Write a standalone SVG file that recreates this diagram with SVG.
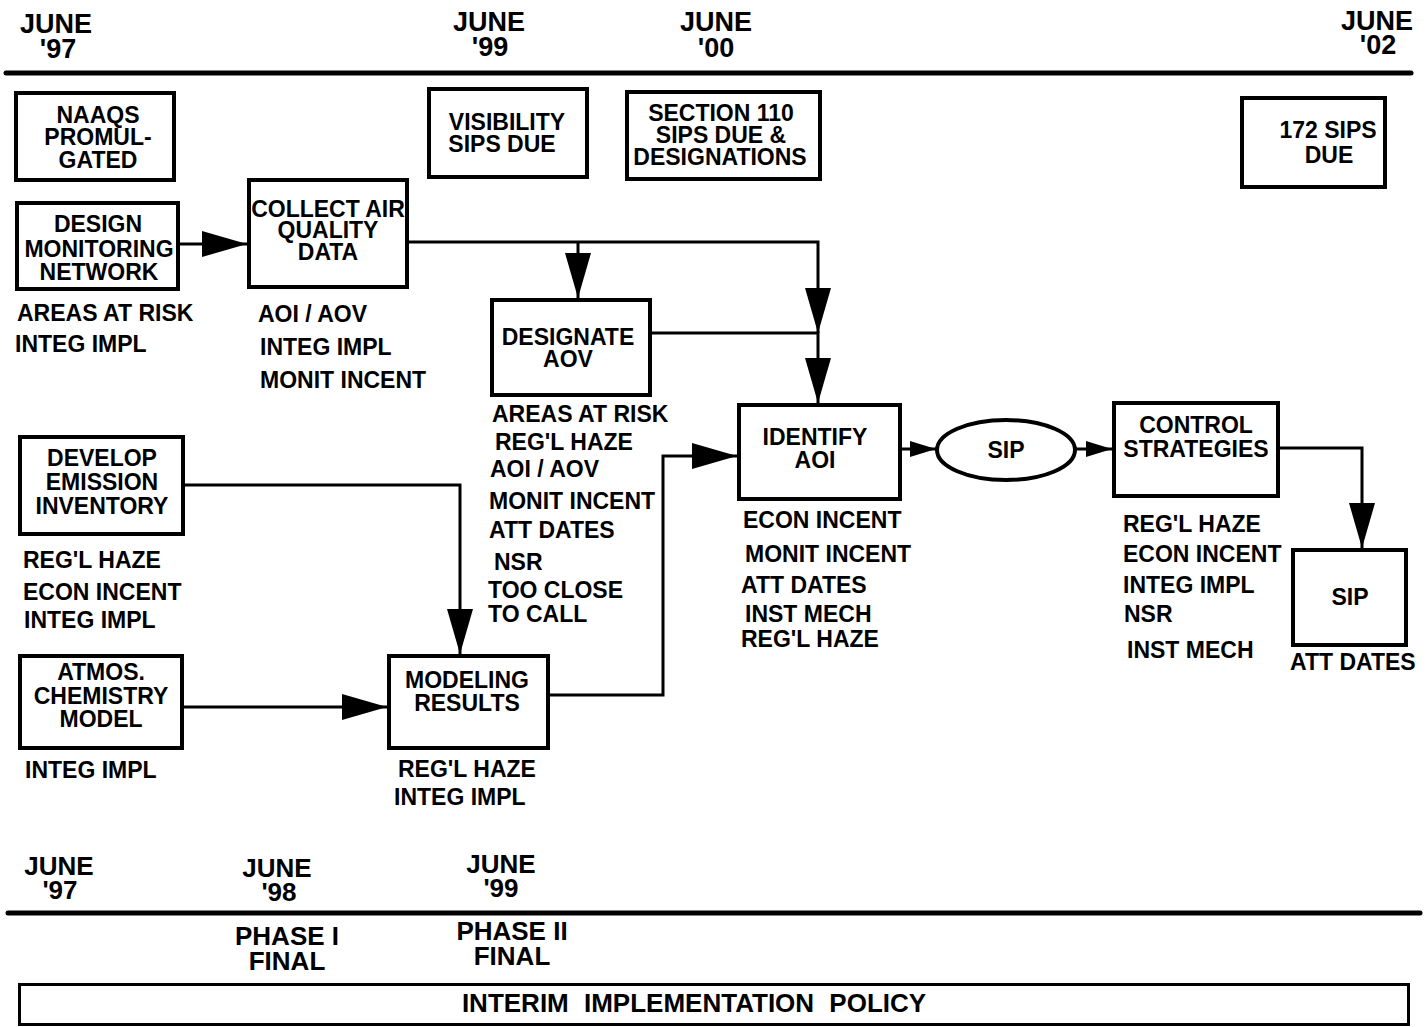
<svg xmlns="http://www.w3.org/2000/svg" width="1426" height="1027" viewBox="0 0 1426 1027">
<style>
text{font-family:"Liberation Sans",Arial,sans-serif;font-weight:bold;fill:#000}
.t{font-size:23px;text-anchor:middle}
.a{font-size:23px}
.d{font-size:27px;text-anchor:middle}
.b{font-size:26px;text-anchor:middle}
.box{fill:#fff;stroke:#000;stroke-width:4}
.ln{fill:none;stroke:#000;stroke-width:3}
.tl{stroke:#000;stroke-width:5;stroke-linecap:round}
</style>
<defs>
<marker id="big" viewBox="0 0 45 26" refX="45" refY="13" markerWidth="45" markerHeight="26" markerUnits="userSpaceOnUse" orient="auto"><path d="M0,0 L45,13 L0,26 z" fill="#000"/></marker>
<marker id="sm" viewBox="0 0 26 16" refX="26" refY="8" markerWidth="26" markerHeight="16" markerUnits="userSpaceOnUse" orient="auto"><path d="M0,0 L26,8 L0,16 z" fill="#000"/></marker>
</defs>
<rect width="1426" height="1027" fill="#fff"/>

<g id="timeline-top">
<line class="tl" x1="6" y1="73" x2="1411" y2="73"/>
<text class="d" x="56" y="33">JUNE</text><text class="d" x="58" y="58">'97</text>
<text class="d" x="489" y="31">JUNE</text><text class="d" x="490" y="56">'99</text>
<text class="d" x="716" y="31">JUNE</text><text class="d" x="716" y="57">'00</text>
<text class="d" x="1377" y="30">JUNE</text><text class="d" x="1378" y="54">'02</text>
</g>

<g id="connectors">
<path class="ln" d="M180,244 H247" marker-end="url(#big)"/>
<path class="ln" d="M409,242 H818 V333" marker-end="url(#big)"/>
<path class="ln" d="M578,242 V298" marker-end="url(#big)"/>
<path class="ln" d="M652,333 H818 V403" marker-end="url(#big)"/>
<path class="ln" d="M185,485 H460 V654" marker-end="url(#big)"/>
<path class="ln" d="M184,707 H387" marker-end="url(#big)"/>
<path class="ln" d="M550,695 H663 V456 H737" marker-end="url(#big)"/>
<path class="ln" d="M902,449 H936" marker-end="url(#sm)"/>
<path class="ln" d="M1075,449 H1112" marker-end="url(#sm)"/>
<path class="ln" d="M1280,448 H1362 V548" marker-end="url(#big)"/>
</g>

<g id="naaqs"><rect class="box" x="16" y="93" width="158" height="87"/>
<text class="t" x="98" y="123">NAAQS</text><text class="t" x="98" y="145">PROMUL-</text><text class="t" x="98" y="168">GATED</text></g>

<g id="visibility"><rect class="box" x="429" y="89" width="158" height="88"/>
<text class="t" x="507" y="130">VISIBILITY</text><text class="t" x="502" y="152">SIPS DUE</text></g>

<g id="section110"><rect class="box" x="627" y="92" width="193" height="87"/>
<text class="t" x="721" y="121">SECTION 110</text><text class="t" x="721" y="143">SIPS DUE &amp;</text><text class="t" x="720" y="165">DESIGNATIONS</text></g>

<g id="sips172"><rect class="box" x="1242" y="98" width="143" height="89"/>
<text class="t" x="1328" y="138">172 SIPS</text><text class="t" x="1329" y="163">DUE</text></g>

<g id="design"><rect class="box" x="17" y="203" width="161" height="86"/>
<text class="t" x="98" y="232">DESIGN</text><text class="t" x="99" y="257">MONITORING</text><text class="t" x="99" y="280">NETWORK</text>
<text class="a" x="17" y="321">AREAS AT RISK</text><text class="a" x="15" y="352">INTEG IMPL</text></g>

<g id="collect"><rect class="box" x="249" y="180" width="158" height="107"/>
<text class="t" x="328" y="217">COLLECT AIR</text><text class="t" x="328" y="238">QUALITY</text><text class="t" x="328" y="260">DATA</text>
<text class="a" x="258" y="322">AOI / AOV</text><text class="a" x="260" y="355">INTEG IMPL</text><text class="a" x="260" y="388">MONIT INCENT</text></g>

<g id="designate"><rect class="box" x="492" y="300" width="158" height="95"/>
<text class="t" x="568" y="345">DESIGNATE</text><text class="t" x="568" y="367">AOV</text>
<text class="a" x="492" y="422">AREAS AT RISK</text><text class="a" x="495" y="450">REG'L HAZE</text><text class="a" x="490" y="477">AOI / AOV</text><text class="a" x="489" y="509">MONIT INCENT</text><text class="a" x="489" y="538">ATT DATES</text><text class="a" x="494" y="570">NSR</text><text class="a" x="488" y="598">TOO CLOSE</text><text class="a" x="488" y="622">TO CALL</text></g>

<g id="identify"><rect class="box" x="739" y="405" width="161" height="94"/>
<text class="t" x="815" y="445">IDENTIFY</text><text class="t" x="815" y="468">AOI</text>
<text class="a" x="743" y="528">ECON INCENT</text><text class="a" x="745" y="562">MONIT INCENT</text><text class="a" x="741" y="593">ATT DATES</text><text class="a" x="745" y="622">INST MECH</text><text class="a" x="741" y="647">REG'L HAZE</text></g>

<g id="sip-oval"><ellipse class="box" cx="1006" cy="450" rx="69" ry="30"/>
<text class="t" x="1006" y="458">SIP</text></g>

<g id="control"><rect class="box" x="1114" y="403" width="164" height="93"/>
<text class="t" x="1196" y="433">CONTROL</text><text class="t" x="1196" y="457">STRATEGIES</text>
<text class="a" x="1123" y="532">REG'L HAZE</text><text class="a" x="1123" y="562">ECON INCENT</text><text class="a" x="1123" y="593">INTEG IMPL</text><text class="a" x="1124" y="622">NSR</text><text class="a" x="1127" y="658">INST MECH</text></g>

<g id="sip-box"><rect class="box" x="1293" y="550" width="113" height="95"/>
<text class="t" x="1350" y="605">SIP</text>
<text class="a" x="1290" y="670">ATT DATES</text></g>

<g id="develop"><rect class="box" x="20" y="437" width="163" height="97"/>
<text class="t" x="102" y="466">DEVELOP</text><text class="t" x="102" y="490">EMISSION</text><text class="t" x="102" y="514">INVENTORY</text>
<text class="a" x="23" y="568">REG'L HAZE</text><text class="a" x="23" y="600">ECON INCENT</text><text class="a" x="24" y="628">INTEG IMPL</text></g>

<g id="atmos"><rect class="box" x="20" y="656" width="162" height="92"/>
<text class="t" x="101" y="680">ATMOS.</text><text class="t" x="101" y="704">CHEMISTRY</text><text class="t" x="101" y="727">MODEL</text>
<text class="a" x="25" y="778">INTEG IMPL</text></g>

<g id="modeling"><rect class="box" x="389" y="656" width="159" height="92"/>
<text class="t" x="467" y="688">MODELING</text><text class="t" x="467" y="711">RESULTS</text>
<text class="a" x="398" y="777">REG'L HAZE</text><text class="a" x="394" y="805">INTEG IMPL</text></g>

<g id="timeline-bottom">
<line class="tl" x1="8" y1="913" x2="1420" y2="913"/>
<text class="b" x="59" y="875">JUNE</text><text class="b" x="60" y="899">'97</text>
<text class="b" x="277" y="877">JUNE</text><text class="b" x="279" y="901">'98</text>
<text class="b" x="501" y="873">JUNE</text><text class="b" x="501" y="897">'99</text>
<text class="b" x="287" y="945">PHASE I</text><text class="b" x="287" y="970">FINAL</text>
<text class="b" x="512" y="940">PHASE II</text><text class="b" x="512" y="965">FINAL</text>
</g>

<g id="interim"><rect x="19.5" y="984.5" width="1389" height="40" fill="#fff" stroke="#000" stroke-width="3"/>
<text class="b" x="694" y="1012" word-spacing="8">INTERIM IMPLEMENTATION POLICY</text></g>
</svg>
